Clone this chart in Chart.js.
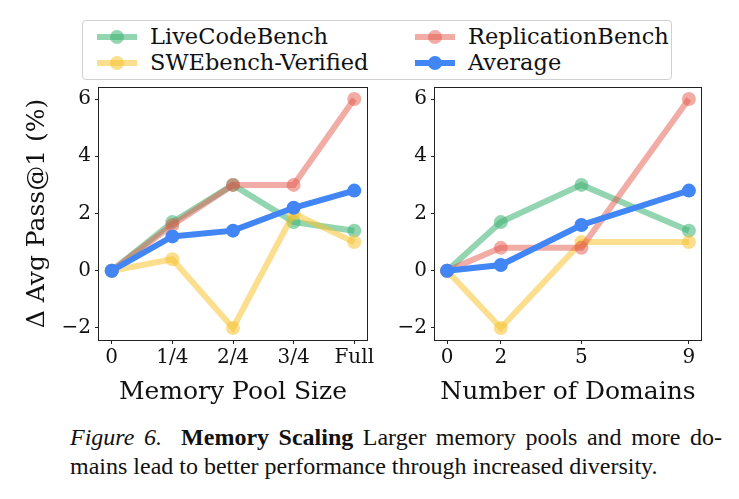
<!DOCTYPE html>
<html>
<head>
<meta charset="utf-8">
<script src="https://cdn.jsdelivr.net/npm/chart.js@4"></script>
<style>
  body { margin: 0; background: #fff; width: 739px; height: 499px; position: relative; overflow: hidden; }
  .box { position: absolute; }
  #legend { left: 82px; top: 20px; width: 588px; height: 58px; border: 1px solid #d0d0d0; border-radius: 4px;
            font-family: "DejaVu Serif"; font-size: 22.5px; color: #111; }
  .item { position: absolute; height: 26px; line-height: 26px; white-space: nowrap; }
  .item canvas { position: absolute; left: 0; top: 0; }
  .item span { position: absolute; left: 53px; top: -1px; }
  #caption { left: 70px; top: 423px; width: 652px; font-family: "Liberation Serif"; font-size: 24px; line-height: 29px; color: #111; }
  .l1 { text-align: justify; text-align-last: justify; }
</style>
</head>
<body>
<div id="legend" class="box"></div>
<div class="box" style="left:0;top:80px;width:380px;height:330px"><canvas id="poolChart" width="380" height="330"></canvas></div>
<div class="box" style="left:380px;top:80px;width:359px;height:330px"><canvas id="domChart" width="359" height="330"></canvas></div>
<div id="caption" class="box">
  <div class="l1"><i>Figure 6.</i>&nbsp; <b>Memory Scaling</b> Larger memory pools and more do-</div>
  <div>mains lead to better performance through increased diversity.</div>
</div>
<script>
// data
const poolLabels = ["0", "1/4", "2/4", "3/4", "Full"];
const poolX = [0, 1, 2, 3, 4];
const domainX = [0, 2, 5, 9];
const yTicks = [-2, 0, 2, 4, 6];

const lcbPool = [0, 1.7, 3.0, 1.7, 1.4];
const swePool = [0, 0.4, -2.0, 2.0, 1.0];
const repPool = [0, 1.6, 3.0, 3.0, 6.0];
const avgPool = [0, 1.2, 1.4, 2.2, 2.8];

const lcbDom = [0, 1.7, 3.0, 1.4];
const sweDom = [0, -2.0, 1.0, 1.0];
const repDom = [0, 0.8, 0.8, 6.0];
const avgDom = [0, 0.2, 1.6, 2.8];

const names = ["LiveCodeBench", "SWEbench-Verified", "ReplicationBench", "Average"];
const colors = ["rgba(60,179,113,0.55)", "rgba(247,195,50,0.55)", "rgba(228,90,78,0.5)", "rgba(66,133,244,1)"];
const widths = [6, 6, 6, 6];

function series(xs, ys, i) {
    return {
        label: names[i],
        data: xs.map((x, k) => ({ x: x, y: ys[k] })),
        borderColor: colors[i],
        backgroundColor: colors[i],
        borderWidth: widths[i],
        pointRadius: 7,
        pointBorderWidth: 0,
        order: 3 - i,
        clip: false
    };
}

const frame = {
    id: "frame",
    afterDraw(chart) {
        const a = chart.chartArea, c = chart.ctx;
        c.save();
        c.strokeStyle = "#222";
        c.lineWidth = 1;
        c.strokeRect(Math.round(a.left) - 0.5, Math.round(a.top) + 0.5, Math.round(a.right - a.left) + 1, Math.round(a.bottom - a.top));
        c.restore();
    }
};

const tickFont = { family: "DejaVu Serif", size: 20 };
const titleFont = { family: "DejaVu Serif", size: 25 };
const minus = v => String(v).replace("-", "\u2212");

function makeChart(id, sets, xMin, xMax, xTicks, xLabel, xTitle, yAxisW, padRight, yTitle) {
    new Chart(document.getElementById(id), {
        type: "line",
        data: { datasets: sets },
        plugins: [frame],
        options: {
            responsive: false,
            animation: false,
            layout: { padding: { top: 6, right: padRight, left: 0, bottom: 0 } },
            plugins: { legend: { display: false }, tooltip: { enabled: false } },
            scales: {
                x: {
                    type: "linear", min: xMin, max: xMax,
                    afterBuildTicks: ax => { ax.ticks = xTicks.map(v => ({ value: v })); },
                    afterFit: ax => { ax.height = 70; ax.paddingLeft = 0; ax.paddingRight = 0; },
                    grid: { drawOnChartArea: false, drawTicks: true, tickLength: 4, color: "#222" },
                    border: { display: false },
                    ticks: { font: tickFont, color: "#111", padding: 2, maxRotation: 0,
                             callback: v => xLabel(v) },
                    title: { display: true, text: xTitle, font: titleFont, color: "#111", padding: { top: 0, bottom: 3 } }
                },
                y: {
                    min: -2.42, max: 6.42,
                    afterBuildTicks: ax => { ax.ticks = yTicks.map(v => ({ value: v })); },
                    afterFit: ax => { ax.width = yAxisW; ax.paddingTop = 0; ax.paddingBottom = 0; },
                    grid: { drawOnChartArea: false, drawTicks: true, tickLength: 4, color: "#222" },
                    border: { display: false },
                    ticks: { font: tickFont, color: "#111", padding: 4, callback: v => minus(v) },
                    title: { display: !!yTitle, text: yTitle || "", font: titleFont, color: "#111", padding: { top: 22, bottom: 0 } }
                }
            }
        }
    });
}

makeChart("poolChart",
    [series(poolX, lcbPool, 0), series(poolX, swePool, 1), series(poolX, repPool, 2), series(poolX, avgPool, 3)],
    -0.21, 4.21, poolX, v => poolLabels[v], "Memory Pool Size", 99, 13, "\u0394 Avg Pass@1 (%)");

makeChart("domChart",
    [series(domainX, lcbDom, 0), series(domainX, sweDom, 1), series(domainX, repDom, 2), series(domainX, avgDom, 3)],
    -0.45, 9.45, domainX, v => String(v), "Number of Domains", 55, 38, null);

// legend
const legend = document.getElementById("legend");
const spots = [[14, 3], [14, 29], [332, 3], [332, 29]];
names.forEach((n, i) => {
    const d = document.createElement("div");
    d.className = "item";
    d.style.left = spots[i][0] + "px";
    d.style.top = spots[i][1] + "px";
    const cv = document.createElement("canvas");
    cv.width = 44; cv.height = 26;
    const c = cv.getContext("2d");
    c.strokeStyle = colors[i]; c.lineWidth = widths[i];
    c.beginPath(); c.moveTo(0, 13); c.lineTo(40, 13); c.stroke();
    c.fillStyle = colors[i];
    c.beginPath(); c.arc(20, 13, 7, 0, Math.PI * 2); c.fill();
    const s = document.createElement("span");
    s.textContent = n;
    d.appendChild(cv); d.appendChild(s);
    legend.appendChild(d);
});
</script>
</body>
</html>
